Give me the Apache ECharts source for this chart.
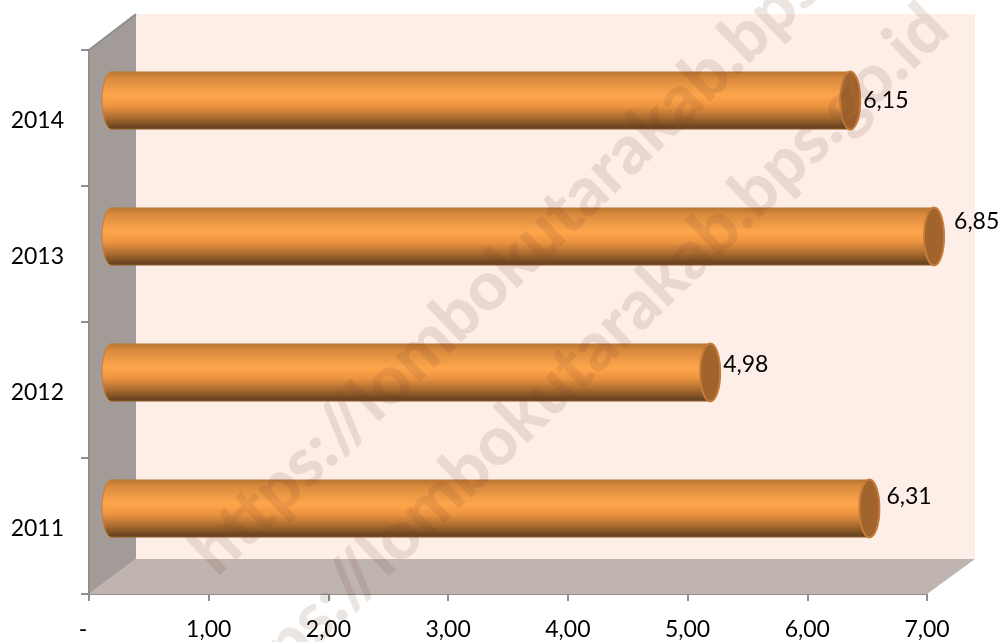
<!DOCTYPE html>
<html><head><meta charset="utf-8">
<style>html,body{margin:0;padding:0;background:#fff}#c{width:1002px;height:642px}</style>
<script src="https://cdn.jsdelivr.net/npm/echarts@6/dist/echarts.min.js"></script>
</head><body><div id="c"></div>
<script>
const years = ['2011','2012','2013','2014'];
const values = [6.31,4.98,6.85,6.15];
const valueLabels = ['6,31','4,98','6,85','6,15'];
const xTickLabels = ['-  ','1,00','2,00','3,00','4,00','5,00','6,00','7,00'];
const watermarkText = 'https://lombokutarakab.bps.go.id';

const DX = 46, DY = 35, BAR_H = 58, RX = 10;
const labelNudge = [[7,-12],[3,-8],[10,-15],[3,0]];
const FONT = 'Lato';
const chart = echarts.init(document.getElementById('c'), null, {renderer:'canvas'});
const bodyFill = new echarts.graphic.LinearGradient(0,0,0,1,[
 {offset:0,color:'#b9742f'},{offset:.12,color:'#d98a3e'},{offset:.42,color:'#ffa64c'},
 {offset:.6,color:'#ec9340'},{offset:.8,color:'#a86a2f'},{offset:.96,color:'#684320'},{offset:1,color:'#8a5527'}]);

function renderWalls(p, api){
  const r = p.coordSys, x0=r.x, y0=r.y, x1=r.x+r.width, y1=r.y+r.height;
  const poly=(pts,fill)=>({type:'polygon',shape:{points:pts},style:{fill,stroke:fill,lineWidth:0}});
  return {type:'group',children:[
    poly([[x0+DX+1,y0-DY-1],[x1+DX+2,y0-DY-1],[x1+DX+2,y1-DY],[x0+DX+1,y1-DY]],'#fdeee8'),
    poly([[x0,y1],[x0+DX+1,y1-DY],[x1+DX+2,y1-DY],[x1,y1]],'#bfb4af'),
    poly([[x0,y1],[x0,y0],[x0+DX+1,y0-DY-1],[x0+DX+1,y1-DY]],'#a39b97'),
    {type:'polyline',shape:{points:[[x0,y1],[x0,y0],[x0+DX+1,y0-DY-1]]},style:{stroke:'#8f8f8f',fill:null,lineWidth:2}}
  ]};
}
function renderBar(p, api){
  const i = api.value(1), v = api.value(0);
  const a = api.coord([0,i]), b = api.coord([v,i]);
  const ox = DX/2+2, oy = -DY/2;
  const sx=a[0]+ox-2, ex=b[0]+ox, cy=a[1]+oy, ry=BAR_H/2;
  const edge={stroke:'#c87b38',lineWidth:1};
  return {type:'group',children:[
    {type:'ellipse',shape:{cx:sx,cy,rx:RX,ry},style:Object.assign({fill:bodyFill},edge)},
    {type:'ellipse',shape:{cx:ex,cy,rx:RX,ry},style:Object.assign({fill:bodyFill},edge)},
    {type:'rect',shape:{x:sx,y:cy-ry,width:ex-sx,height:BAR_H},style:{fill:bodyFill}},
    {type:'ellipse',shape:{cx:ex,cy,rx:RX,ry},style:{fill:'#a1642c',stroke:'#c87b38',lineWidth:2}},
    {type:'text',x:ex+RX+labelNudge[i][0],y:cy+labelNudge[i][1],style:{text:valueLabels[i],fill:'#000',font:'23px '+FONT,verticalAlign:'middle',align:'left'}}
  ]};
}
const wmStyle = {text:watermarkText,font:'900 68px Lato',fill:'rgba(110,60,40,0.13)',textAlign:'left',textVerticalAlign:'middle'};
const wmAngle = 44*Math.PI/180;
chart.setOption({
  animation:false,
  grid:{left:89,right:75,top:50,bottom:48,containLabel:false},
  xAxis:{type:'value',min:0,max:7,interval:1,splitLine:{show:false},
    axisLine:{show:true,onZero:false,lineStyle:{color:'#8f8f8f',width:2}},
    axisTick:{show:true,length:7,lineStyle:{color:'#8f8f8f',width:2}},
    axisLabel:{color:'#000',fontFamily:FONT,fontSize:23,margin:24,formatter:(v)=>xTickLabels[v]}},
  yAxis:{type:'category',data:years,splitLine:{show:false},
    axisLine:{show:false},axisTick:{show:true,length:8,alignWithLabel:false,lineStyle:{color:'#8f8f8f',width:2}},
    axisLabel:{color:'#000',fontFamily:FONT,fontSize:23,margin:25,formatter:(v)=>'{a|'+v+'}',
      rich:{a:{color:'#000',fontFamily:FONT,fontSize:23,padding:[6,0,0,0]}}}},
  graphic:[
    {type:'text',z:100,x:202,y:562,rotation:wmAngle,style:wmStyle,silent:true},
    {type:'text',z:100,x:212,y:717,rotation:wmAngle,style:wmStyle,silent:true}
  ],
  series:[
    {type:'custom',z:1,coordinateSystem:'cartesian2d',renderItem:renderWalls,data:[[0,0]],silent:true},
    {type:'custom',z:2,coordinateSystem:'cartesian2d',renderItem:renderBar,
     encode:{x:0,y:1},data:values.map((v,i)=>[v,i]),silent:true}
  ]
});
</script></body></html>
